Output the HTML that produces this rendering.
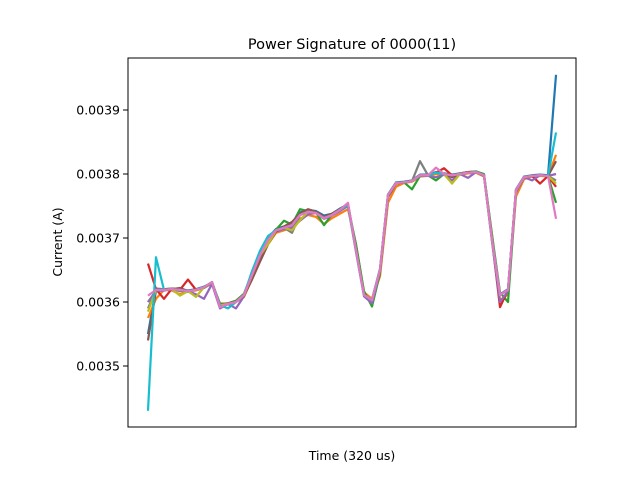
<!DOCTYPE html>
<html><head><meta charset="utf-8"><style>
body{margin:0;background:#fff;}
svg{display:block;font-family:"DejaVu Sans","Liberation Sans",sans-serif;}
</style></head><body>
<svg id="chart" width="640" height="480">
<rect x="0" y="0" width="640" height="480" fill="#fff"/>
<text x="352" y="49" text-anchor="middle" font-size="14.5">Power Signature of 0000(11)</text>
<text x="352" y="460" text-anchor="middle" font-size="12.5">Time (320 us)</text>
<text transform="translate(62,242) rotate(-90)" text-anchor="middle" font-size="12.5">Current (A)</text>
<g id="lines"></g>
<g id="yticks"></g>
<rect x="128" y="58" width="448" height="369" fill="none" stroke="#000" stroke-width="1"/>
</svg>
<script>
// values in mA
const yTickValues=[3.5,3.6,3.7,3.8,3.9];
const yTickLabels=["0.0035","0.0036","0.0037","0.0038","0.0039"];
const colors=["#1f77b4","#ff7f0e","#2ca02c","#d62728","#9467bd","#8c564b","#7f7f7f","#bcbd22","#17becf","#e377c2"];
const sBlue=[3.550,3.621,3.620,3.621,3.620,3.618,3.620,3.624,3.630,3.596,3.596,3.601,3.612,3.645,3.676,3.700,3.714,3.718,3.722,3.740,3.744,3.742,3.735,3.738,3.746,3.753,3.684,3.612,3.604,3.652,3.768,3.787,3.788,3.790,3.799,3.799,3.803,3.801,3.799,3.801,3.803,3.804,3.799,3.700,3.612,3.620,3.776,3.796,3.798,3.799,3.798,3.955];
const sOrange=[3.575,3.605,3.619,3.618,3.612,3.617,3.618,3.622,3.629,3.598,3.597,3.600,3.608,3.636,3.665,3.690,3.708,3.712,3.716,3.730,3.736,3.733,3.722,3.731,3.738,3.745,3.690,3.615,3.605,3.640,3.755,3.780,3.786,3.788,3.796,3.797,3.800,3.799,3.797,3.799,3.801,3.802,3.796,3.705,3.603,3.612,3.765,3.792,3.796,3.797,3.796,3.830];
const sGreen=[3.600,3.617,3.620,3.621,3.620,3.616,3.620,3.622,3.630,3.597,3.598,3.602,3.613,3.644,3.675,3.699,3.713,3.727,3.721,3.745,3.742,3.740,3.720,3.737,3.745,3.750,3.690,3.617,3.593,3.645,3.764,3.785,3.787,3.776,3.797,3.798,3.790,3.800,3.798,3.801,3.803,3.804,3.800,3.705,3.615,3.600,3.772,3.794,3.797,3.798,3.797,3.755];
const sRed=[3.660,3.620,3.605,3.621,3.619,3.635,3.619,3.623,3.631,3.594,3.597,3.600,3.611,3.642,3.673,3.697,3.712,3.716,3.720,3.736,3.741,3.739,3.731,3.736,3.744,3.752,3.681,3.611,3.603,3.650,3.767,3.786,3.787,3.789,3.798,3.798,3.802,3.809,3.798,3.800,3.803,3.803,3.798,3.697,3.592,3.619,3.775,3.795,3.797,3.785,3.797,3.780];
const sPurple=[3.600,3.617,3.618,3.620,3.619,3.617,3.612,3.605,3.628,3.590,3.597,3.590,3.609,3.640,3.670,3.694,3.710,3.714,3.716,3.727,3.737,3.739,3.730,3.735,3.742,3.750,3.678,3.609,3.598,3.648,3.764,3.785,3.787,3.789,3.797,3.797,3.795,3.799,3.790,3.800,3.794,3.803,3.797,3.694,3.600,3.617,3.772,3.795,3.790,3.798,3.797,3.800];
const sBrown=[3.540,3.618,3.620,3.620,3.622,3.617,3.619,3.623,3.631,3.596,3.598,3.600,3.610,3.635,3.663,3.690,3.710,3.718,3.725,3.738,3.745,3.741,3.733,3.738,3.745,3.752,3.681,3.611,3.603,3.648,3.765,3.785,3.787,3.789,3.798,3.798,3.802,3.800,3.795,3.800,3.802,3.803,3.798,3.697,3.611,3.619,3.775,3.795,3.797,3.798,3.797,3.820];
const sGray=[3.590,3.619,3.619,3.620,3.617,3.617,3.619,3.623,3.631,3.595,3.597,3.600,3.611,3.642,3.673,3.697,3.712,3.716,3.708,3.736,3.741,3.739,3.731,3.736,3.744,3.752,3.681,3.611,3.603,3.650,3.767,3.786,3.787,3.789,3.820,3.798,3.802,3.800,3.798,3.800,3.802,3.803,3.798,3.697,3.611,3.619,3.775,3.795,3.797,3.798,3.797,3.790];
const sOlive=[3.585,3.619,3.619,3.620,3.610,3.617,3.608,3.623,3.631,3.595,3.597,3.600,3.611,3.642,3.673,3.690,3.712,3.716,3.712,3.728,3.741,3.739,3.731,3.736,3.744,3.752,3.681,3.611,3.603,3.650,3.767,3.786,3.787,3.789,3.798,3.798,3.802,3.800,3.785,3.800,3.802,3.803,3.798,3.697,3.611,3.619,3.775,3.795,3.797,3.798,3.797,3.785];
const sCyan=[3.430,3.670,3.619,3.620,3.619,3.617,3.619,3.623,3.631,3.595,3.590,3.600,3.611,3.648,3.680,3.703,3.712,3.716,3.720,3.736,3.741,3.739,3.731,3.736,3.744,3.752,3.681,3.611,3.603,3.650,3.767,3.786,3.787,3.789,3.798,3.798,3.802,3.800,3.798,3.800,3.802,3.803,3.798,3.697,3.611,3.619,3.775,3.795,3.797,3.798,3.797,3.865];
const sPink=[3.610,3.619,3.619,3.620,3.619,3.617,3.619,3.623,3.631,3.592,3.597,3.600,3.611,3.642,3.673,3.697,3.712,3.716,3.720,3.736,3.741,3.739,3.731,3.736,3.744,3.755,3.681,3.611,3.603,3.650,3.767,3.786,3.787,3.789,3.798,3.798,3.810,3.800,3.798,3.800,3.802,3.803,3.798,3.697,3.611,3.619,3.775,3.795,3.797,3.798,3.797,3.730];
const seriesList=[sBlue,sOrange,sGreen,sRed,sPurple,sBrown,sGray,sOlive,sCyan,sPink];
const seriesNames=["blue","orange","green","red","purple","brown","gray","olive","cyan","pink"];

const NS="http://www.w3.org/2000/svg";
const plotL=128,plotR=576,plotT=58,plotB=427;
const yMin=3.4047,yMax=3.98125;
function yScale(v){return plotB-(v-yMin)/(yMax-yMin)*(plotB-plotT);}
function xScale(i,n){const pad=(plotR-plotL)*0.0446;return plotL+pad+i*((plotR-plotL)-2*pad)/(n-1);}

const lg=document.getElementById('lines');
seriesList.forEach((s,k)=>{
  const p=document.createElementNS(NS,'polyline');
  p.setAttribute('points',s.map((v,i)=>xScale(i,s.length).toFixed(2)+','+yScale(v).toFixed(2)).join(' '));
  p.setAttribute('fill','none');
  p.setAttribute('stroke',colors[k]);
  p.setAttribute('stroke-width','2.2');
  p.setAttribute('stroke-linejoin','round');
  
  
  lg.appendChild(p);
});
const tg=document.getElementById('yticks');
yTickValues.forEach((v,k)=>{
  const y=yScale(v);
  const l=document.createElementNS(NS,'line');
  l.setAttribute('x1',plotL-5);l.setAttribute('x2',plotL);
  l.setAttribute('y1',y);l.setAttribute('y2',y);
  l.setAttribute('stroke','#000');
  
  
  tg.appendChild(l);
  const t=document.createElementNS(NS,'text');
  t.setAttribute('x',plotL-8);t.setAttribute('y',y+4.5);
  t.setAttribute('text-anchor','end');t.setAttribute('font-size','12.5');
  t.textContent=yTickLabels[k];
  
  
  tg.appendChild(t);
});
</script>
</body></html>
